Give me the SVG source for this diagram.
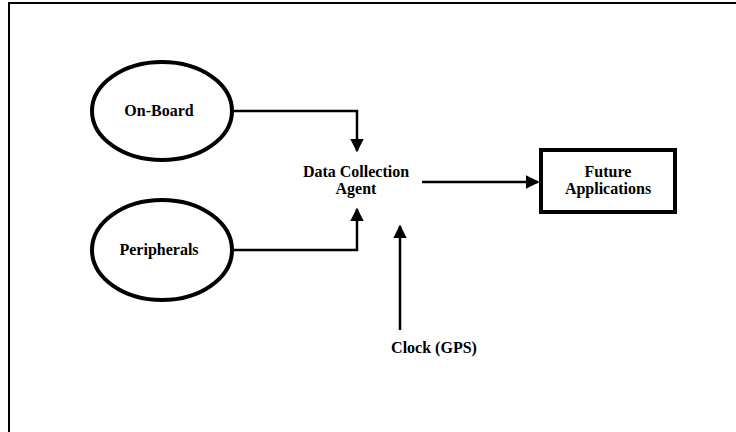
<svg xmlns="http://www.w3.org/2000/svg" width="736" height="432" viewBox="0 0 736 432">
  <style>
    .lbl { font-family: "Liberation Serif", "Times New Roman", serif; font-weight: bold; font-size: 16px; fill: #000; text-anchor: middle; }
    .node { fill: #fff; stroke: #000; stroke-width: 4; }
    .wire { fill: none; stroke: #000; stroke-width: 2.5; }
  </style>
  <defs>
    <marker id="head" viewBox="0 0 10 10" refX="9" refY="5" markerWidth="5.5" markerHeight="5.5" orient="auto" markerUnits="strokeWidth">
      <path d="M0,0 L10,5 L0,10 Z" fill="#000"/>
    </marker>
  </defs>

  <rect x="0" y="0" width="736" height="432" fill="#fff"/>
  <!-- frame -->
  <path d="M9,432 L9,3 L736,3" fill="none" stroke="#000" stroke-width="2"/>

  <g id="connectors">
    <path class="wire" d="M233,111 L357,111 L357,151" marker-end="url(#head)"/>
    <path class="wire" d="M233,250 L357,250 L357,209" marker-end="url(#head)"/>
    <path class="wire" d="M422,182 L538,182" marker-end="url(#head)"/>
    <path class="wire" d="M400,330 L400,226" marker-end="url(#head)"/>
  </g>

  <g id="on-board">
    <ellipse class="node" cx="162" cy="111" rx="70" ry="49"/>
    <text class="lbl" x="159" y="116">On-Board</text>
  </g>

  <g id="peripherals">
    <ellipse class="node" cx="162" cy="250" rx="70" ry="50"/>
    <text class="lbl" x="159" y="255">Peripherals</text>
  </g>

  <g id="data-collection-agent">
    <text class="lbl" x="356" y="177">Data Collection</text>
    <text class="lbl" x="356" y="194">Agent</text>
  </g>

  <g id="future-applications">
    <rect class="node" x="541" y="150" width="134" height="62"/>
    <text class="lbl" x="608" y="177">Future</text>
    <text class="lbl" x="608" y="194">Applications</text>
  </g>

  <g id="clock">
    <text class="lbl" x="434" y="353">Clock (GPS)</text>
  </g>
</svg>
